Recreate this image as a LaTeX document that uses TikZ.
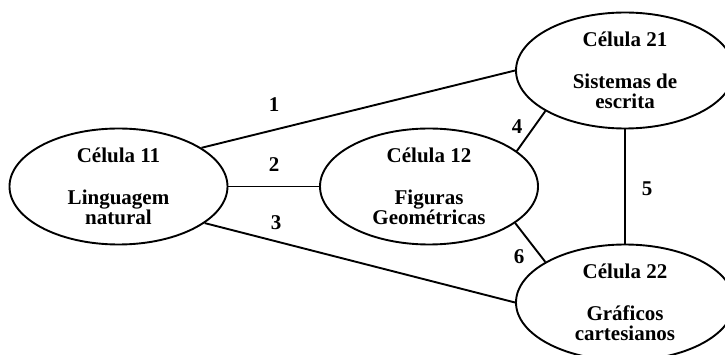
\documentclass[tikz,border=0pt]{standalone}
\usepackage{fontspec}
\setmainfont{Liberation Serif}
\usetikzlibrary{shapes.geometric}

\newcommand{\cellfont}{\bfseries\fontsize{21}{20.5}\selectfont}

\tikzset{
  cell/.style={draw, ellipse, line width=1.9pt, minimum width=218pt,
    minimum height=116pt, inner sep=0pt, align=center, font=\cellfont},
  num/.style={font=\cellfont, inner sep=0pt},
  link/.style={line width=1.9pt},
}

\begin{document}
\begin{tikzpicture}[x=1pt, y=-1pt]
  \useasboundingbox[fill=white] (0,0) rectangle (725,355);

  % the four cells
  \node[cell] (c11) at (118.5,186.5) {Célula 11\\[21.5pt]Linguagem\\natural};
  \node[cell] (c12) at (429,186.5)   {Célula 12\\[21.5pt]Figuras\\Geométricas};
  \node[cell] (c21) at (625,70.5)    {Célula 21\\[21.5pt]Sistemas de\\escrita};
  \node[cell] (c22) at (625,302.5)   {Célula 22\\[21.5pt]Gráficos\\cartesianos};

  % connections between the cells
  \draw[link] (c11.25)   -- (c21.180);
  \draw[link] (c11.0)    -- (c12.180);
  \draw[link] (c11.-23.4) -- (c22.180);
  \draw[link] (c12.22.3) -- (c21.207.7);
  \draw[link] (c21.south) -- (c22.north);
  \draw[link] (c12.-23.3) -- (c22.153.4);

  % connection numbers
  \node[num] (n1) at (274,105) {1};
  \node[num] (n2) at (274,165) {2};
  \node[num] (n3) at (276,223) {3};
  \node[num] (n4) at (517,127) {4};
  \node[num] (n5) at (647,189) {5};
  \node[num] (n6) at (519,257) {6};
\end{tikzpicture}
\end{document}
